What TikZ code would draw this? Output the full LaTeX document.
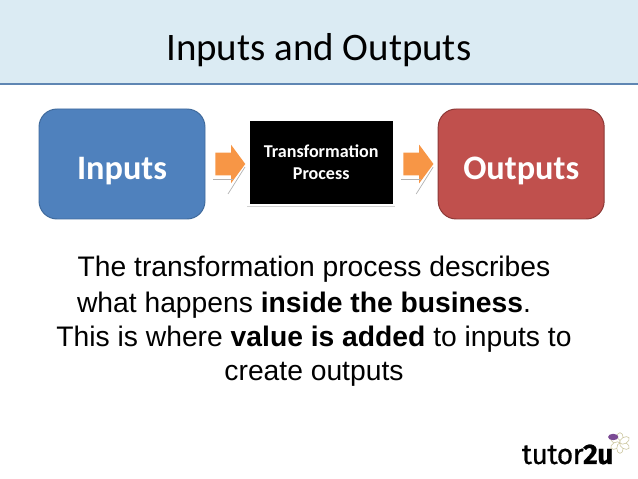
\documentclass[tikz,border=0pt]{standalone}
\usepackage{fontspec}
\usetikzlibrary{shapes.arrows}
\setmainfont{Liberation Sans}
\newfontfamily\calibri{Carlito}
\newfontfamily\logofont{Fira Sans}
\definecolor{headfill}{HTML}{DBEBF3}
\definecolor{headline}{HTML}{5F86B3}
\definecolor{inblue}{HTML}{4F81BD}
\definecolor{inedge}{HTML}{3F6A9C}
\definecolor{outred}{HTML}{C0504D}
\definecolor{outedge}{HTML}{8C3836}
\definecolor{arroworange}{HTML}{F79646}
\definecolor{petalpurple}{HTML}{7B4B94}
\definecolor{petaledge}{HTML}{C9C39A}
\tikzset{
  bigbox/.style={draw, line width=0.7pt, rounded corners=0.45cm, minimum width=4.15cm, minimum height=2.75cm, text=white, text height=0.8cm, text depth=0pt, font=\calibri\bfseries\fontsize{24.4}{28}\selectfont},
  blockarrow/.style={single arrow, anchor=tail, fill=arroworange, inner sep=0pt, text height=0.55cm, text depth=0pt, minimum height=0.75cm, minimum width=0.95cm, single arrow head extend=0.2cm, single arrow tip angle=107},
  reflect/.style={gray!60, line width=0.5pt},
  bodyline/.style={font=\fontsize{20.1}{24}\selectfont, anchor=base}
}
\begin{document}
\begin{tikzpicture}
\useasboundingbox (0,0) rectangle (15.95,11.975);
\fill [headfill] (0,9.875) rectangle (15.95,11.975);
\draw [headline, line width=1pt] (0,9.875) -- (15.95,9.875);
\node (title) at (7.97,10.72) {\calibri\fontsize{27.7}{32}\selectfont Inputs and Outputs};
% boxes
\node [bigbox, fill=inblue, draw=inedge] (inputs) at (3.05,7.875) {Inputs};
\node [fill=black, inner sep=0pt, minimum width=3.58cm, minimum height=2.08cm, text=white, align=center, font=\calibri\bfseries\fontsize{12.85}{15.6}\selectfont] (process) at (8.03,7.91) {Transformation\\Process};
\node [bigbox, fill=outred, draw=outedge] (outputs) at (13.03,7.875) {Outputs};
\draw [gray!35, line width=0.6pt] (process.south west)++(-0.05,-0.05) -- ++(3.68,0);
% arrows
\node [blockarrow] (arrowa) at (5.375,7.875) {};
\node [blockarrow] (arrowb) at (10.08,7.875) {};
\foreach \a in {arrowa,arrowb}
    {\draw [reflect] (\a.tail)++(-0.05,-0.375) -- ++(0.5,0);
    \draw [reflect] (\a.tail)++(0.325,-0.75) -- ++(0.425,0.675);}
% text
\node [bodyline] (linea) at (7.85,5.05) {The transformation process describes};
\node [bodyline] (lineb) at (7.6,4.17) {what happens \textbf{inside the business}.};
\node [bodyline] (linec) at (7.85,3.30) {This is where \textbf{value is added} to inputs to};
\node [bodyline] (lined) at (7.85,2.47) {create outputs};
% logo
\node [anchor=base east, inner sep=0pt] (logo) at (15.33,0.375) {\logofont\fontsize{20.2}{24}\selectfont\addfontfeature{LetterSpace=-2,FakeBold=0.5}tutor\textbf{2u}};
\foreach \r in {0,60,...,300}
    \draw [petaledge, fill=white, line width=0.4pt, rotate around={\r:(15.5,0.9)}] (15.5,1.03) ellipse (0.08 and 0.13);
\fill [petalpurple] (15.33,1.05) ellipse (0.13 and 0.08);
\end{tikzpicture}
\end{document}
